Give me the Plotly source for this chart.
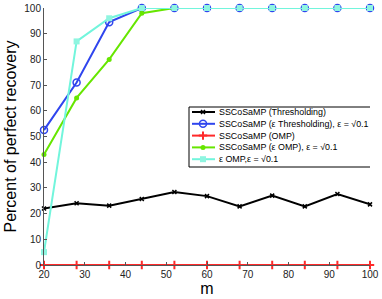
import plotly.graph_objects as go

m = [20, 28, 36, 44, 52, 60, 68, 76, 84, 92, 100]
thr = [22, 24, 23.1, 25.7, 28.4, 26.8, 22.8, 27, 22.8, 27.6, 23.6]
eps_thr = [52.5, 71, 94.5, 100, 100, 100, 100, 100, 100, 100, 100]
omp = [0, 0, 0, 0, 0, 0, 0, 0, 0, 0, 0]
eps_omp_ss = [43, 65, 80, 98, 100, 100, 100, 100, 100, 100, 100]
eps_omp = [5, 87, 96, 100, 100, 100, 100, 100, 100, 100, 100]

names = ["SSCoSaMP (Thresholding)",
         "SSCoSaMP (ε Thresholding), ε = √0.1",
         "SSCoSaMP (OMP)",
         "SSCoSaMP (ε OMP), ε = √0.1",
         "ε OMP,ε = √0.1"]

styles = [
    dict(line=dict(color="black", width=2),
         marker=dict(symbol="x-thin", size=4, color="black", line=dict(width=1.5, color="black"))),
    dict(line=dict(color="#2f45ee", width=2),
         marker=dict(symbol="circle-open", size=7, color="#2f45ee", line=dict(width=1.5))),
    dict(line=dict(color="#ff2a2a", width=2),
         marker=dict(symbol="cross-thin", size=6, color="#ff2a2a", line=dict(width=2, color="#ff2a2a"))),
    dict(line=dict(color="#66e600", width=2),
         marker=dict(symbol="circle", size=5, color="#66e600")),
    dict(line=dict(color="#72f5dc", width=2),
         marker=dict(symbol="square", size=6, color="#8ff5e0")),
]
series = [thr, eps_thr, omp, eps_omp_ss, eps_omp]

W, H = 382, 299
L, R, T, B = 44, 12, 8, 34

fig = go.Figure()
for nm, ys, st in zip(names, series, styles):
    fig.add_trace(go.Scatter(x=m, y=ys, name=nm, mode="lines+markers",
                             showlegend=False, cliponaxis=False, **st))

# custom compact legend drawn in pixel space (overlay axes x2/y2)
leg_x0, leg_x1, leg_y0, leg_y1 = 189, 375, 107, 167
row0, row_gap = 112, 11.8
fig.add_shape(type="rect", xref="x2", yref="y2", x0=leg_x0, x1=leg_x1, y0=leg_y0, y1=leg_y1,
              line=dict(color="black", width=1), fillcolor="white", layer="below")
for i, (nm, st) in enumerate(zip(names, styles)):
    yy = row0 + i * row_gap
    fig.add_trace(go.Scatter(x=[192, 203, 215], y=[yy, yy, yy], xaxis="x2", yaxis="y2",
                             mode="lines", showlegend=False, hoverinfo="skip",
                             line=st["line"], cliponaxis=False))
    fig.add_trace(go.Scatter(x=[203], y=[yy], xaxis="x2", yaxis="y2",
                             mode="markers", showlegend=False, hoverinfo="skip",
                             marker=st["marker"], cliponaxis=False))
    fig.add_annotation(x=217, y=yy, xref="x2", yref="y2", text=nm, showarrow=False,
                       xanchor="left", yanchor="middle", font=dict(size=8.9, color="black"))

fig.update_layout(
    width=W, height=H,
    margin=dict(l=L, r=R, t=T, b=B, autoexpand=False),
    paper_bgcolor="white", plot_bgcolor="white",
    font=dict(family="Liberation Sans, Arial, sans-serif", size=10, color="#222"),
    showlegend=False,
    xaxis=dict(range=[20, 100], tickvals=[20, 30, 40, 50, 60, 70, 80, 90, 100],
               ticks="inside", ticklen=3, tickcolor="#555", showline=True,
               linecolor="#555", linewidth=1, showgrid=False, zeroline=False,
               automargin=False,
               title=dict(text="m", font=dict(size=16, color="black"), standoff=2)),
    yaxis=dict(range=[0, 100], tickvals=list(range(0, 101, 10)),
               ticks="inside", ticklen=3, tickcolor="#555", showline=True,
               linecolor="#555", linewidth=1, showgrid=False, zeroline=False,
               automargin=False,
               title=dict(text="Percent of perfect recovery", font=dict(size=16, color="black"),
                          standoff=3)),
    xaxis2=dict(range=[L, W - R], overlaying="x", visible=False, fixedrange=True),
    yaxis2=dict(range=[H - B, T], overlaying="y", visible=False, fixedrange=True),
)

fig.write_html("out.html", config={"displayModeBar": False},
               post_script="document.body.style.margin='0';document.body.style.overflow='hidden';")
